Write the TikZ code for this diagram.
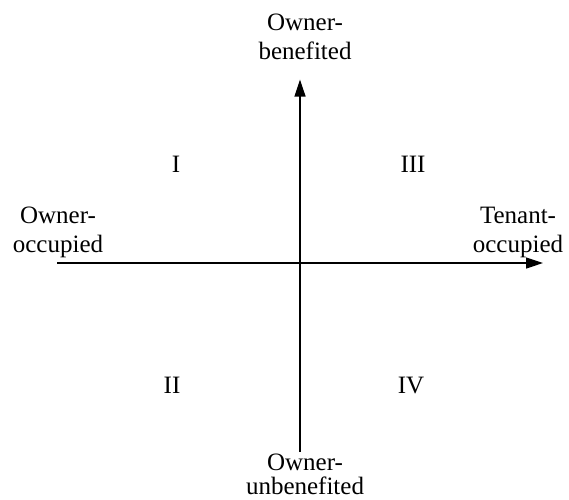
\documentclass[tikz,border=0pt]{standalone}
\usepackage{fontspec}
\setmainfont{Liberation Serif}
\usetikzlibrary{arrows.meta, positioning}

\begin{document}
\begin{tikzpicture}[
  x=1pt, y=-1pt,
  axis/.style={line width=1.2pt, -{Triangle[length=17pt, width=11pt]}},
  axislabel/.style={align=center, font=\fontsize{25}{29}\selectfont, inner sep=0pt, anchor=north},
  quadrant/.style={font=\fontsize{25}{29}\selectfont, inner sep=0pt}
]
\useasboundingbox (0,0) rectangle (569,499);

% axis end points
\coordinate (o)      at (300,263);
\coordinate (ytop)   at (300,79.5);
\coordinate (ybot)   at (300,452);
\coordinate (xleft)  at (57,263);
\coordinate (xright) at (543,263);

\draw[axis] (ybot) -- (ytop);
\draw[axis] (xleft) -- (xright);

% axis labels
\node[axislabel] (benefited)   at (305,14)  {Owner-\\benefited};
\node[axislabel] (unbenefited) at (305,454) {Owner-\\[-5pt]unbenefited};
\node[axislabel] (ownocc)      at (58,207)  {Owner-\\occupied};
\node[axislabel] (tenocc)      at (518,207) {Tenant-\\occupied};

% quadrants
\node[quadrant] (q1)   at (176,164.5) {I};
\node[quadrant] (q3)   at (413,164.5) {III};
\node[quadrant] (q2)   at (172,385) {II};
\node[quadrant] (q4)   at (411,385) {IV};
\end{tikzpicture}
\end{document}
